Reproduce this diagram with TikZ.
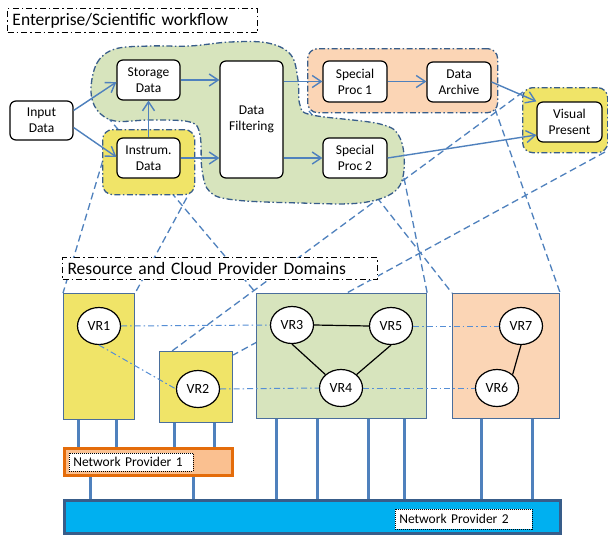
\documentclass[tikz,border=0pt]{standalone}
\usepackage{fontspec}
\setmainfont{Carlito}
\usetikzlibrary{arrows.meta,calc,shapes.geometric}
\pgfdeclarelayer{bgl}
\pgfdeclarelayer{projl}
\pgfdeclarelayer{grpl}
\pgfsetlayers{bgl,projl,grpl,main}
\definecolor{arrowblue}{HTML}{4F81BD}
\definecolor{dashblue}{HTML}{4F81BD}
\definecolor{vrlinkc}{HTML}{558ED5}
\definecolor{grpborder}{HTML}{385D8A}
\definecolor{boxborder}{HTML}{4A6E9C}
\definecolor{yel}{RGB}{240,228,104}
\definecolor{grn}{HTML}{D7E4BD}
\definecolor{org}{HTML}{FBD5B5}
\definecolor{npafill}{HTML}{FAC090}
\definecolor{npaborder}{HTML}{E46C0A}
\definecolor{npbfill}{HTML}{00B0F0}
\definecolor{npbborder}{HTML}{385D8A}
\newcommand\wffont{\fontsize{13.5}{16}\selectfont}
\newcommand\ttlfont{\fontsize{17.5}{20}\selectfont}
\newcommand\vrfont{\fontsize{14}{16}\selectfont}
\begin{document}
\begin{tikzpicture}[x=1pt,y=-1pt,
  wf/.style={draw=black, line width=1.2pt, rounded corners=6pt, fill=white, align=center, font=\wffont, inner sep=0pt},
  arr/.style={draw=arrowblue, line width=1.4pt, -{Straight Barb[length=9pt,width=12pt]}},
  proj/.style={draw=dashblue, line width=1.3pt, dash pattern=on 7pt off 4pt},
  grp/.style={draw=grpborder, line width=1.3pt, dash pattern=on 6pt off 2.5pt on 1.5pt off 2.5pt},
  grpbox/.style={grp, rounded corners=10pt, anchor=north west, inner sep=0pt},
  ttl/.style={draw=black, fill=white, line width=1pt, dash pattern=on 6pt off 3pt on 1.5pt off 3pt, font=\ttlfont, align=left, inner xsep=5pt, inner ysep=0pt, anchor=north west},
  vrbox/.style={draw=boxborder, line width=1.2pt, anchor=north west, inner sep=0pt},
  vr/.style={ellipse, draw=black, fill=white, line width=1.2pt, minimum width=43pt, minimum height=37pt, inner sep=0pt, font=\vrfont},
  vrlink/.style={draw=vrlinkc, line width=1pt, dash pattern=on 6pt off 3pt on 1.5pt off 3pt},
  solidlink/.style={draw=black, line width=1.2pt},
  conn/.style={draw=arrowblue, line width=3pt},
  lbl/.style={draw=black, fill=white, dash pattern=on 1pt off 1pt, line width=0.6pt, font=\wffont, align=left, anchor=north west, inner xsep=4pt, inner ysep=0pt}
]
\begin{pgfonlayer}{bgl}
\fill[white] (0,0) rectangle (608,536);
\end{pgfonlayer}
\useasboundingbox (0,0) rectangle (608,536);

% titles
\node[ttl, text width=240pt, minimum height=24pt] (ttlwf) at (7,8) {Enterprise/Scientific workflow};
\node[ttl, text width=305pt, minimum height=22pt] (ttlrc) at (62,257) {Resource and Cloud Provider Domains};

% groups
\begin{pgfonlayer}{grpl}
\path[grp, fill=grn] plot[smooth cycle, tension=0.6] coordinates {
 (91,90) (97,63) (115,49) (150,46) (190,46) (230,42) (268,43) (291,55) (298,80) (300,105)
 (312,115) (380,124) (400,138) (404,170) (394,192) (360,203) (300,203) (235,200) (210,192)
 (202,170) (200,135) (190,122) (150,120) (115,121) (97,110)};
\node[grpbox, fill=yel, minimum width=92pt, minimum height=65pt] (yg) at (102,129) {};
\node[grpbox, fill=org, minimum width=190pt, minimum height=64pt] (og) at (307,48) {};
\node[grpbox, fill=yel, minimum width=85pt, minimum height=65pt] (vg) at (522,87) {};
\end{pgfonlayer}

% workflow nodes
\node[wf, minimum width=63pt, minimum height=39pt] (in) at (41.5,120.5) {Input\\Data};
\node[wf, minimum width=63pt, minimum height=40pt] (st) at (148.5,80) {Storage\\Data};
\node[wf, minimum width=63pt, minimum height=40pt] (ins) at (148.5,158) {Instrum.\\Data};
\node[wf, minimum width=63pt, minimum height=117pt] (df) at (251.5,119.5) {Data\\Filtering};
\node[wf, minimum width=64pt, minimum height=41pt] (sp1) at (355,81.5) {Special\\Proc 1};
\node[wf, minimum width=64pt, minimum height=40pt] (da) at (459,82) {Data\\Archive};
\node[wf, minimum width=64pt, minimum height=40pt] (sp2) at (355,158) {Special\\Proc 2};
\node[wf, minimum width=65pt, minimum height=40pt] (vp) at (569.5,122) {Visual\\Present};

\draw[arr] ([yshift=10pt]in.east) -- ([yshift=-2pt]st.west);
\draw[arr] ([yshift=-7pt]in.east) -- ([yshift=1pt]ins.west);
\draw[arr] (ins.north) -- (st.south);
\draw[arr] (st.east) -- (df.west |- st.east);
\draw[arr] (ins.east) -- (df.west |- ins.east);
\draw[arr] (df.east |- sp1.west) -- (sp1.west);
\draw[arr] (df.east |- sp2.west) -- (sp2.west);
\draw[arr] (sp1.east) -- (da.west |- sp1.east);
\draw[arr] (da.east) -- (vp.north west);
\draw[arr] (sp2.east) -- ([yshift=-13pt]vp.west);

% bottom boxes
\node[vrbox, fill=yel, minimum width=71pt, minimum height=126pt] (b1) at (63,293) {};
\node[vrbox, fill=yel, minimum width=73pt, minimum height=71pt] (b2) at (159,351) {};
\node[vrbox, fill=grn, minimum width=170pt, minimum height=125pt] (b3) at (256,293) {};
\node[vrbox, fill=org, minimum width=107pt, minimum height=125pt] (b4) at (452,293) {};

% projection lines
\coordinate (pyl) at (109,140);
\coordinate (pyr) at (192,188);
\coordinate (pgl) at (100,108);
\coordinate (pgr) at (404,178);
\coordinate (pol) at (309,111);
\coordinate (por) at (495,109);
\coordinate (pvl) at (523,92);
\coordinate (pvr) at (605,152);
\begin{pgfonlayer}{projl}
\draw[proj] (pyl) -- (b1.north west);
\draw[proj] (pyr) -- (b1.north east);
\draw[proj] (pgl) -- (b3.north west);
\draw[proj] (pgr) -- (b3.north east);
\draw[proj] (pol) -- (b4.north west);
\draw[proj] (por) -- (b4.north east);
\draw[proj] (pvl) -- ([xshift=13pt]b2.north west);
\draw[proj] (pvr) -- ([yshift=-4pt]b2.north east);
\end{pgfonlayer}

% network providers
\node[draw=npaborder, fill=npafill, line width=3pt, minimum width=168pt, minimum height=27pt, inner sep=0pt] (npa) at (148.5,462) {};
\node[draw=npbborder, fill=npbfill, line width=3pt, minimum width=496pt, minimum height=33pt, inner sep=0pt] (npb) at (312.5,517) {};
\node[lbl, text width=116pt, minimum height=18pt] (npal) at (69,453) {Network Provider 1};
\node[lbl, text width=129pt, minimum height=20pt] (npbl) at (395,509) {Network Provider 2};

\draw[conn] ([xshift=15pt]b1.south west) -- ([xshift=15pt]b1.south west |- npa.north);
\draw[conn] ([xshift=53pt]b1.south west) -- ([xshift=53pt]b1.south west |- npa.north);
\draw[conn] ([xshift=15pt]b2.south west) -- ([xshift=15pt]b2.south west |- npa.north);
\draw[conn] ([xshift=55pt]b2.south west) -- ([xshift=55pt]b2.south west |- npa.north);
\draw[conn] ([xshift=27.5pt]npa.south west) -- ([xshift=27.5pt]npa.south west |- npb.north);
\draw[conn] ([xshift=130.5pt]npa.south west) -- ([xshift=130.5pt]npa.south west |- npb.north);
\draw[conn] ([xshift=20pt]b3.south west) -- ([xshift=20pt]b3.south west |- npb.north);
\draw[conn] ([xshift=61pt]b3.south west) -- ([xshift=61pt]b3.south west |- npb.north);
\draw[conn] ([xshift=112pt]b3.south west) -- ([xshift=112pt]b3.south west |- npb.north);
\draw[conn] ([xshift=148pt]b3.south west) -- ([xshift=148pt]b3.south west |- npb.north);
\draw[conn] ([xshift=29pt]b4.south west) -- ([xshift=29pt]b4.south west |- npb.north);
\draw[conn] ([xshift=80pt]b4.south west) -- ([xshift=80pt]b4.south west |- npb.north);

% VRs
\node[vr] (vr1) at (99,326) {VR1};
\node[vr] (vr2) at (198,389) {VR2};
\node[vr] (vr3) at (292,325) {VR3};
\node[vr] (vr5) at (391,326) {VR5};
\node[vr] (vr4) at (341,388) {VR4};
\node[vr] (vr7) at (521,326) {VR7};
\node[vr] (vr6) at (497,388) {VR6};

\draw[vrlink] (vr1.east) -- (vr3.west);
\draw[vrlink] (vr5.east) -- (vr7.west);
\draw[vrlink] (vr1.south) -- (vr2.west);
\draw[vrlink] (vr2.east) -- (vr4.west);
\draw[vrlink] (vr4.east) -- (vr6.west);
\draw[solidlink] (vr3.east) -- (vr5.west);
\draw[solidlink] (vr3.south) -- (vr4.north west);
\draw[solidlink] (vr5.south) -- (vr4.north east);
\draw[solidlink] (vr7.south) -- (vr6.north east);
\end{tikzpicture}
\end{document}
